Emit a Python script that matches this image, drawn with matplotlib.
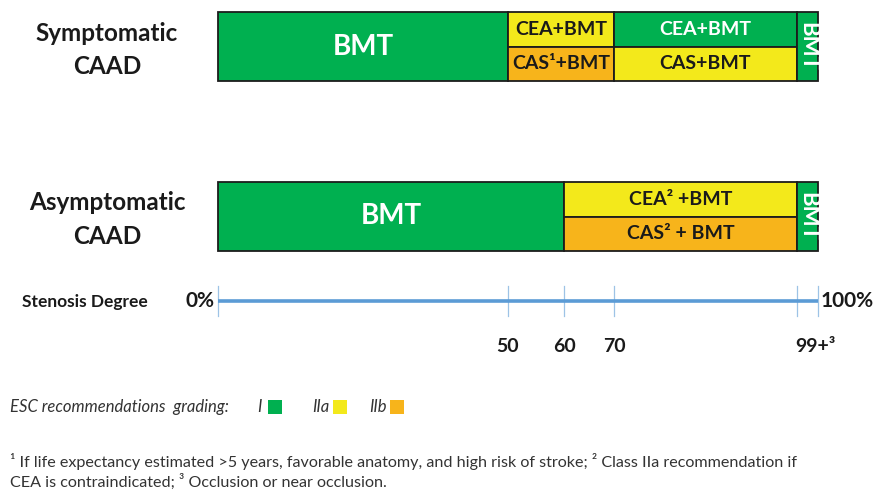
import numpy as np
import matplotlib
matplotlib.use("Agg")
import matplotlib.pyplot as plt
from matplotlib.patches import Rectangle

plt.rcParams['font.family'] = ['Lato', 'DejaVu Sans']

# ---------------- data ----------------
row_labels = ["Symptomatic\nCAAD", "Asymptomatic\nCAAD"]

sym_left = [0, 50, 50, 70, 70, 99]
sym_right = [50, 70, 70, 99, 99, 100]
sym_part = ['full', 'top', 'bottom', 'top', 'bottom', 'full']
sym_grade = ['I', 'IIa', 'IIb', 'I', 'IIa', 'I']
sym_text = ['BMT', 'CEA+BMT', 'CAS¹+BMT', 'CEA+BMT', 'CAS+BMT', 'BMT']

asym_left = [0, 60, 60, 99]
asym_right = [60, 99, 99, 100]
asym_part = ['full', 'top', 'bottom', 'full']
asym_grade = ['I', 'IIa', 'IIb', 'I']
asym_text = ['BMT', 'CEA² +BMT', 'CAS² + BMT', 'BMT']

stenosis_stops = [0, 50, 60, 70, 99, 100]
tick_values = [50, 60, 70, 99]
tick_labels = ['50', '60', '70', '99+³']
axis_title = "Stenosis Degree"

grades = ['I', 'IIa', 'IIb']
grade_colors = {'I': '#00B050', 'IIa': '#F3E91B', 'IIb': '#F7B41B'}
text_colors = {'I': 'white', 'IIa': '#1a1a1a', 'IIb': '#1a1a1a'}

footnote1 = "¹ If life expectancy estimated >5 years, favorable anatomy, and high risk of stroke; ² Class IIa recommendation if"
footnote2 = "CEA is contraindicated; ³ Occlusion or near occlusion."

# ---------------- layout ----------------
W, H = 876, 491
stop_pos = [0, 0.4833, 0.5767, 0.66, 0.965, 1.0]   # relative display positions of the stops

fig = plt.figure(figsize=(W / 100, H / 100), dpi=100)
fig.patch.set_facecolor('white')

axp = fig.add_axes([0, 0, 1, 1])
axp.set_xlim(0, W)
axp.set_ylim(H, 0)
axp.axis('off')

x0, x1 = 218, 818
ax = fig.add_axes([x0 / W, 0, (x1 - x0) / W, 1])
fwd = lambda v: np.interp(v, stenosis_stops, stop_pos)
inv = lambda v: np.interp(v, stop_pos, stenosis_stops)
ax.set_xscale('function', functions=(fwd, inv))
ax.set_xlim(0, 100)
ax.set_ylim(H, 0)
ax.axis('off')
ax.patch.set_alpha(0)

rows = [
    (12, 81, sym_left, sym_right, sym_part, sym_grade, sym_text),
    (182, 251, asym_left, asym_right, asym_part, asym_grade, asym_text),
]
edge = '#1c1c1c'
for (top, bot, lefts, rights, parts, grs, texts) in rows:
    mid = (top + bot) / 2
    for l, r, p, g, t in zip(lefts, rights, parts, grs, texts):
        if p == 'full':
            y0, y1 = top, bot
        elif p == 'top':
            y0, y1 = top, mid
        else:
            y0, y1 = mid, bot
        bars = ax.barh((y0 + y1) / 2, r - l, left=l, height=(y1 - y0),
                       color=grade_colors[g], edgecolor=edge, linewidth=1.3, zorder=2)
        for b in bars:
            b.set_clip_on(False)
        cx = inv((fwd(l) + fwd(r)) / 2)
        cy = (y0 + y1) / 2
        if p == 'full' and (r - l) < 5:
            ax.text(cx, cy, t, rotation=270, ha='center', va='center',
                    color=text_colors[g], fontsize=16, fontweight='bold', zorder=3,
                    clip_on=False)
        elif p == 'full':
            ax.text(cx, cy, t, ha='center', va='center',
                    color=text_colors[g], fontsize=20, fontweight='bold', zorder=3)
        else:
            ax.text(cx, cy, t, ha='center', va='center',
                    color=text_colors[g], fontsize=14, fontweight='bold', zorder=3)

# row labels (two lines each)
row_line_y = [(33, 66), (203, 236)]
for lab, ys in zip(row_labels, row_line_y):
    for line, yy in zip(lab.split("\n"), ys):
        axp.text(107, yy, line, ha='center', va='center', fontsize=17.5,
                 fontweight='bold', color='#1a1a1a')

# stenosis axis
axis_y = 301
ax.plot([0, 100], [axis_y, axis_y], color='#5B9BD5', lw=2.6, zorder=2,
        solid_capstyle='butt', clip_on=False)
for v in stenosis_stops:
    ax.plot([v, v], [286, 316], color='#9DC3E6', lw=0.9, zorder=1, clip_on=False)
for v, lab in zip(tick_values, tick_labels):
    off = 0.9 if v == 99 else 0
    ax.text(v + off, 347, lab, ha='center', va='center', fontsize=14,
            fontweight='bold', color='#1a1a1a')
axp.text(215, axis_y, "0%", ha='right', va='center', fontsize=15,
         fontweight='bold', color='#1a1a1a')
axp.text(821, axis_y, "100%", ha='left', va='center', fontsize=15,
         fontweight='bold', color='#1a1a1a')
axp.text(22, 302, axis_title, ha='left', va='center', fontsize=12.5,
         fontweight='bold', color='#1a1a1a')

# legend
leg_y = 407
axp.text(10, leg_y, "ESC recommendations  grading:", ha='left', va='center',
         fontsize=12, style='italic', color='#333333')
leg_text_x = [257, 312, 369]
leg_box_x = [268, 333, 390]
for g, tx, bx in zip(grades, leg_text_x, leg_box_x):
    axp.text(tx, leg_y, g, ha='left', va='center', fontsize=12,
             style='italic', color='#333333')
    axp.add_patch(Rectangle((bx, leg_y - 7), 14, 14, facecolor=grade_colors[g],
                            edgecolor='none'))

# footnotes
axp.text(10, 462, footnote1, ha='left', va='center', fontsize=11.6, color='#333333')
axp.text(10, 482, footnote2, ha='left', va='center', fontsize=11.6, color='#333333')

fig.savefig('out.png', dpi=100, facecolor='white')
